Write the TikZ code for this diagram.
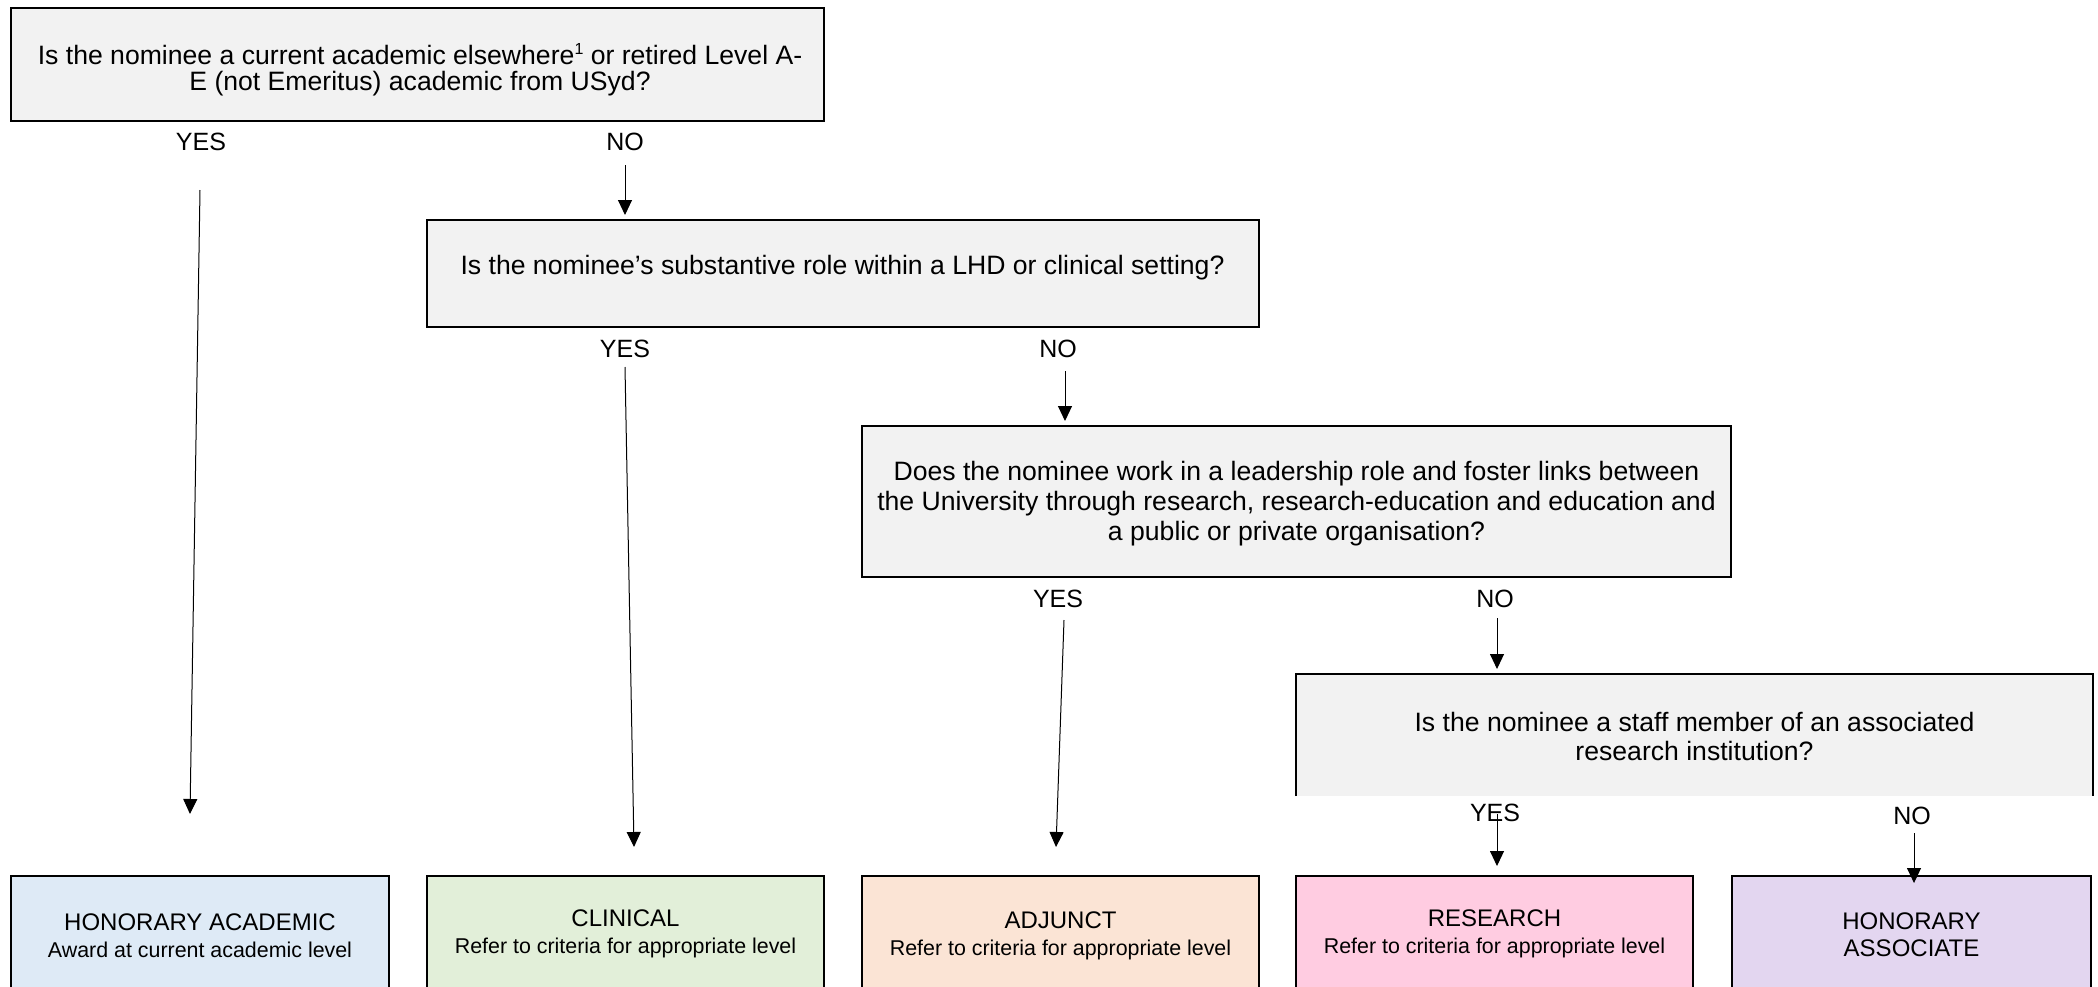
\documentclass[tikz,border=0pt]{standalone}
\usepackage{fontspec}
\setmainfont{Liberation Sans}
\usetikzlibrary{arrows.meta}
\definecolor{qgrey}{HTML}{F2F2F2}
\definecolor{cblue}{HTML}{DEEAF6}
\definecolor{cgreen}{HTML}{E2EFD9}
\definecolor{corange}{HTML}{FBE4D5}
\definecolor{cpink}{HTML}{FFCCE1}
\definecolor{cpurple}{HTML}{E3D6F0}
\newcommand{\supone}{\raisebox{0.38em}{\fontsize{8}{8}\selectfont 1}}
\begin{document}
\begin{tikzpicture}[x=0.5pt,y=-0.5pt,
  qbox/.style={draw=black,line width=0.9pt,fill=qgrey,inner sep=0pt,outer sep=0pt},
  qtext/.style={font=\fontsize{13.3}{15}\selectfont,align=center,inner sep=0pt,anchor=north},
  lbl/.style={font=\fontsize{12.5}{15}\selectfont,inner sep=0pt,anchor=base},
  arr/.style={line width=0.5pt,-{Triangle[width=7pt,length=7.5pt]}},
  obox/.style={draw=black,line width=0.9pt,inner sep=0pt,outer sep=0pt,minimum height=67pt},
  otext/.style={font=\fontsize{12}{13.5}\selectfont,align=center,inner sep=0pt,anchor=north}
]
\useasboundingbox (0,0) rectangle (2098,986);
\clip (0,0) rectangle (2098,986);

% question boxes
\node[qbox,minimum width=406.5pt,minimum height=56.5pt] (q1) at (417.5,64.5) {};
\node[qtext,font=\fontsize{13.3}{12.8}\selectfont] (t1) at (420,43) {Is the nominee a current academic elsewhere\supone{} or retired Level A-\\E (not Emeritus) academic from USyd?};

\node[qbox,minimum width=416pt,minimum height=53.5pt] (q2) at (843,273.5) {};
\node[qtext] (t2) at (842.5,255) {Is the nominee’s substantive role within a LHD or clinical setting?};

\node[qbox,minimum width=434.5pt,minimum height=75.5pt] (q3) at (1296.5,501.5) {};
\node[qtext] (t3) at (1296.5,461) {Does the nominee work in a leadership role and foster links between\\the University through research, research-education and education and\\a public or private organisation?};

\node[fill=qgrey,draw=none,inner sep=0pt,outer sep=0pt,minimum width=398.5pt,minimum height=61pt] (q4) at (1694.5,735) {};
\draw[line width=0.9pt] (q4.south west) -- (q4.north west) -- (q4.north east) -- (q4.south east);
\node[qtext,font=\fontsize{13.3}{14.5}\selectfont] (t4) at (1694.5,712) {Is the nominee a staff member of an associated\\research institution?};

% outcome boxes
\node[obox,fill=cblue,minimum width=189pt] (oA) at (200,943) {};
\node[otext] (tA) at (200,913) {HONORARY ACADEMIC\\{\fontsize{10.7}{13.5}\selectfont Award at current academic level}};
\node[obox,fill=cgreen,minimum width=198.5pt] (oB) at (625.5,943) {};
\node[otext] (tB) at (625.5,909) {CLINICAL\\{\fontsize{10.7}{13.5}\selectfont Refer to criteria for appropriate level}};
\node[obox,fill=corange,minimum width=198.5pt] (oC) at (1060.5,943) {};
\node[otext] (tC) at (1060.5,911) {ADJUNCT\\{\fontsize{10.7}{13.5}\selectfont Refer to criteria for appropriate level}};
\node[obox,fill=cpink,minimum width=198.5pt] (oD) at (1494.5,943) {};
\node[otext] (tD) at (1494.5,909) {RESEARCH\\{\fontsize{10.7}{13.5}\selectfont Refer to criteria for appropriate level}};
\node[obox,fill=cpurple,minimum width=179.5pt] (oE) at (1911.5,943) {};
\node[otext] (tE) at (1911.5,912) {HONORARY\\ASSOCIATE};

% labels
\node[lbl] (y1) at (201,150) {YES};
\node[lbl] (n1) at (625,150) {NO};
\node[lbl] (y2) at (625,357) {YES};
\node[lbl] (n2) at (1058,357) {NO};
\node[lbl] (y3) at (1058,607) {YES};
\node[lbl] (n3) at (1495,607) {NO};
\node[lbl] (y4) at (1495,821) {YES};
\node[lbl] (n4) at (1912,824) {NO};

% connector ends
\coordinate (a1s) at (200,190); \coordinate (a1e) at (190,814);
\coordinate (b1s) at (625,165); \coordinate (b1e) at (625,215);
\coordinate (a2s) at (625,367); \coordinate (a2e) at (634,847);
\coordinate (b2s) at (1065,371); \coordinate (b2e) at (1065,421);
\coordinate (a3s) at (1064,620); \coordinate (a3e) at (1056,847);
\coordinate (b3s) at (1497,618); \coordinate (b3e) at (1497,669);
\coordinate (a4s) at (1497,814); \coordinate (a4e) at (1497,866);
\coordinate (b4s) at (1914,833); \coordinate (b4e) at (1914,883);

\draw[arr] (a1s) -- (a1e);
\draw[arr] (b1s) -- (b1e);
\draw[arr] (a2s) -- (a2e);
\draw[arr] (b2s) -- (b2e);
\draw[arr] (a3s) -- (a3e);
\draw[arr] (b3s) -- (b3e);
\draw[arr] (a4s) -- (a4e);
\draw[arr] (b4s) -- (b4e);
\end{tikzpicture}
\end{document}
